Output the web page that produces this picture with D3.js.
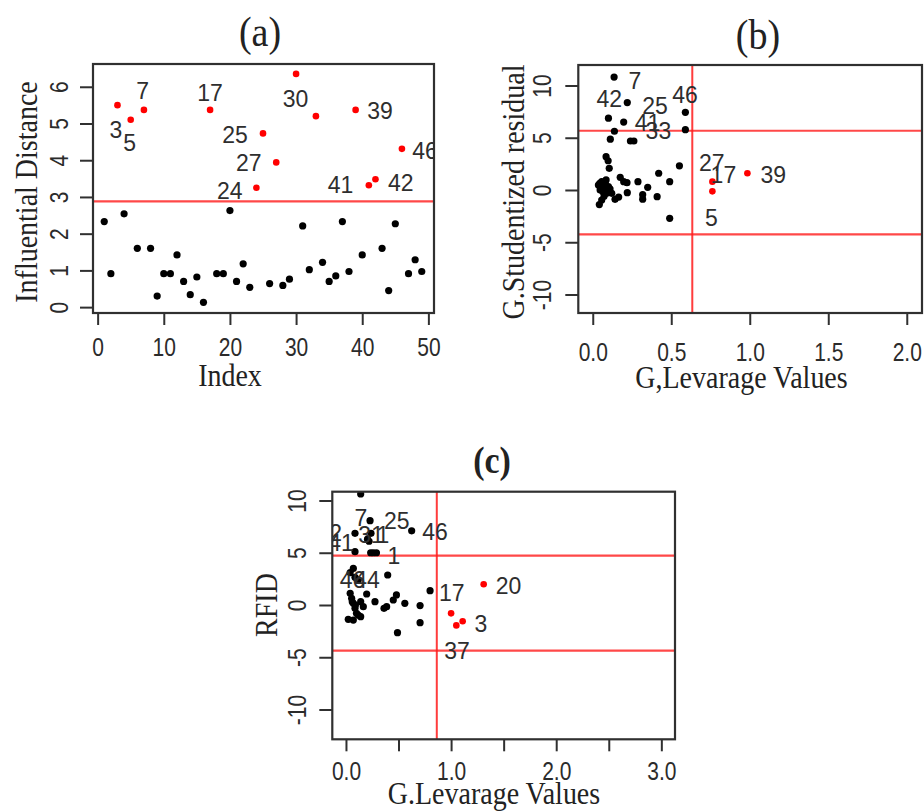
<!DOCTYPE html>
<html>
<head>
<meta charset="utf-8">
<script src="https://cdn.jsdelivr.net/npm/d3@7"></script>
<style>
	body { margin: 0; background: #fff; }
	svg { display: block; }
</style>
</head>
<body>
<div id="chart"></div>
<script>

// Data

// (a) influential distance for observations 1..49
var distA = [2.33, 0.91, 5.50, 2.54, 5.10, 1.60, 5.37, 1.60, 0.30, 0.91,
	0.91, 1.42, 0.70, 0.34, 0.82, 0.13, 5.37, 0.91, 0.91, 2.63,
	0.70, 1.18, 0.54, 3.25, 4.73, 0.64, 3.94, 0.59, 0.76, 6.35,
	2.21, 1.02, 5.20, 1.22, 0.70, 0.85, 2.33, 0.97, 5.37, 1.42,
	3.32, 3.48, 1.60, 0.45, 2.27, 4.31, 0.91, 1.29, 0.97];
var cutA = 2.88;
var labelsA = ['3', '5', '7', '17', '25', '27', '24', '30', '39', '41', '42', '46'];
var labelsAX = [2.75, 4.85, 6.79, 17.0, 20.77, 22.86, 19.99, 29.92, 42.69, 36.72, 45.84, 49.5];
var labelsAY = [4.85, 4.48, 5.91, 5.86, 4.71, 3.94, 3.18, 5.69, 5.35, 3.33, 3.40, 4.27];

// (b) leverage vs studentized residual
var levB = [0.136, 0.22, 0.10, 0.197, 0.138, 0.112, 0.24, 0.262, 0.59, 0.59,
	0.085, 0.098, 0.105, 0.552, 0.42, 0.49, 0.288, 0.175, 0.197, 0.218,
	0.35, 0.41, 0.318, 0.318, 0.22, 0.165, 0.142, 0.49,
	0.042, 0.057, 0.072, 0.047, 0.036, 0.057, 0.072, 0.085, 0.089, 0.104,
	0.064, 0.079, 0.10, 0.121, 0.051, 0.085, 0.045, 0.11,
	0.762, 0.762, 0.985];
var resB = [10.8, 8.36, 6.87, 6.5, 5.62, 4.86, 4.69, 4.69, 7.43, 5.77,
	3.19, 2.80, 2.07, 2.31, 1.6, 0.8, 0.8, 1.21, 0.8, 0.70,
	0.26, -0.64, -0.45, -0.88, -0.26, -0.68, -0.89, -2.71,
	-1.40, -0.96, -0.60, 0.0, 0.48, 0.8, 0.48, 0.16, -0.32, -0.16,
	-0.16, 0.7, 0.32, -0.32, 0.32, 0.96, 0.64, 0.1,
	0.80, -0.13, 1.6];
var cutLevB = 0.634;
var cutResB = [5.67, -4.24];
var labelsB = ['7', '42', '25', '46', '41', '33', '27', '17', '5', '39'];
var labelsBX = [0.269, 0.105, 0.397, 0.588, 0.349, 0.418, 0.758, 0.832, 0.755, 1.15];
var labelsBY = [10.48, 8.77, 8.06, 9.17, 6.46, 5.66, 2.63, 1.51, -2.60, 1.45];

// (c) leverage vs RFID
var levC = [0.14, 0.229, 0.238, 0.205, 0.22, 0.086, 0.625, 0.086, 0.235, 0.26,
	0.29, 0.397, 0.80, 0.07, 0.04, 0.086, 0.117, 0.197, 0.276, 0.362,
	0.387, 0.45, 0.48, 0.56, 0.705, 0.705, 0.49,
	0.04, 0.054, 0.07, 0.086, 0.10, 0.022, 0.07, 0.117, 0.14, 0.165,
	0.14, 0.06, 0.09,
	1.0, 1.05, 1.11, 1.31];
var rfidC = [10.62, 8.07, 6.86, 6.3, 6.1, 6.86, 7.1, 5.1, 5.0, 5.0,
	5.0, 2.87, 1.37, 3.5, 3.1, 2.65, 2.4, 1.05, 0.32, -0.32,
	-0.16, 0.48, 0.96, 0.16, -0.06, -1.69, -2.65,
	1.12, 0.64, 0.16, -0.32, -0.8, -1.37, -1.44, -0.96, -1.12, -0.16,
	0.32, 0.3, 0.0,
	-0.8, -1.95, -1.55, 1.98];
var cutLevC = 0.864;
var cutRfidC = [4.72, -4.37];
var labelsC = ['7', '25', '31', '1', '46', '41', '42', '1', '46', '44', '17', '20', '3', '37'];
var labelsCX = [0.141, 0.483, 0.238, 0.352, 0.848, -0.048, -0.16, 0.457, 0.062, 0.20, 1.007, 1.546, 1.284, 1.057];
var labelsCY = [8.40, 8.06, 6.78, 6.78, 7.01, 5.98, 6.94, 4.78, 2.49, 2.49, 1.20, 1.84, -1.80, -4.38];

// Tick values
var ticksAX = [0, 10, 20, 30, 40, 50];
var ticksAY = [0, 1, 2, 3, 4, 5, 6];
var ticksBX = [0, 0.5, 1, 1.5, 2];
var ticksBY = [-10, -5, 0, 5, 10];
var ticksCX = [0, 0.5, 1, 1.5, 2, 2.5, 3];
var ticksCY = [-10, -5, 0, 5, 10];


// Config

var sans = "'Liberation Sans', Arial, sans-serif";
var serif = "'Liberation Serif', 'Times New Roman', serif";
var tickFont = { family: sans, size: 21, sy: 1.2 };
var labelFont = { family: sans, size: 23, sy: 1.05 };
var titleFont = { family: serif, size: 28, sy: 1.15 };
var red = '#ff1a1a';
var ink = '#2b2b2b';

var svg = d3.select('#chart').append('svg')
	.attr('width', 924)
	.attr('height', 812);


// Helpers

function zip(xs, ys) {
	return xs.map((v, i) => ({ x: v, y: ys[i] }));
}

// R prints a plain hyphen, not the unicode minus d3.format uses
function plainInt(d) {
	return String(d);
}

function stretchText(g, str, x, y, font, opts) {
	opts = opts || {};
	let tf = `translate(${x},${y})` + (opts.rotate ? ' rotate(-90)' : '') + ` scale(1,${font.sy})`;
	return g.append('text')
		.attr('transform', tf)
		.attr('text-anchor', opts.anchor || 'middle')
		.style('font-family', font.family)
		.style('font-size', font.size + 'px')
		.style('font-weight', opts.weight || 'normal')
		.attr('fill', opts.fill || ink)
		.text(str);
}


// Rendering

function drawPanel(p) {
	const x = d3.scaleLinear().domain(p.xDomain).range([p.left, p.right]);
	const y = d3.scaleLinear().domain(p.yDomain).range([p.bottom, p.top]);
	const g = svg.append('g').attr('class', 'panel-' + p.name);

	const clipId = 'clip-' + p.name;
	g.append('clipPath').attr('id', clipId)
		.append('rect')
			.attr('x', p.left).attr('y', p.top)
			.attr('width', p.right - p.left).attr('height', p.bottom - p.top);
	const inner = g.append('g').attr('clip-path', `url(#${clipId})`);

	// cut-off lines
	(p.vLines || []).forEach(v => {
		inner.append('line')
			.attr('x1', x(v)).attr('x2', x(v)).attr('y1', p.top).attr('y2', p.bottom)
			.attr('stroke', red).attr('stroke-width', 2).attr('stroke-opacity', 0.85);
	});
	(p.hLines || []).forEach(v => {
		inner.append('line')
			.attr('x1', p.left).attr('x2', p.right).attr('y1', y(v)).attr('y2', y(v))
			.attr('stroke', red).attr('stroke-width', 2.2).attr('stroke-opacity', 0.8);
	});

	// points
	inner.selectAll('.pt')
		.data(p.points)
		.enter().append('circle')
			.attr('class', 'pt')
			.attr('cx', d => x(d.x))
			.attr('cy', d => y(d.y))
			.attr('r', d => p.isOut(d) ? 3.3 : 3.6)
			.attr('fill', d => p.isOut(d) ? '#ff0000' : '#000');

	// point labels
	p.labels.forEach((lab, i) => {
		stretchText(inner, lab, x(p.labelX[i]), y(p.labelY[i]) + 0.358 * labelFont.size * labelFont.sy, labelFont, { fill: '#2e2e2e' });
	});

	// frame
	g.append('rect')
		.attr('x', p.left).attr('y', p.top)
		.attr('width', p.right - p.left).attr('height', p.bottom - p.top)
		.attr('fill', 'none').attr('stroke', '#303030').attr('stroke-width', 2.2);

	// axes
	const xAxis = g.append('g')
		.attr('transform', `translate(0,${p.bottom})`)
		.call(d3.axisBottom(x).tickValues(p.xTicks).tickSize(12).tickFormat(p.xFormat));
	const yAxis = g.append('g')
		.attr('transform', `translate(${p.left},0)`)
		.call(d3.axisLeft(y).tickValues(p.yTicks).tickSize(13).tickFormat(plainInt));
	[xAxis, yAxis].forEach(ax => {
		ax.select('.domain').remove();
		ax.selectAll('line').attr('stroke', '#303030').attr('stroke-width', 2);
		ax.attr('font-family', null).attr('font-size', null);
	});
	xAxis.selectAll('text')
		.attr('y', null).attr('dy', null)
		.attr('transform', `translate(0,${p.xTickGap}) scale(1,${tickFont.sy})`)
		.style('font-family', tickFont.family).style('font-size', tickFont.size + 'px')
		.attr('fill', ink);
	yAxis.selectAll('text')
		.attr('x', null).attr('dy', null)
		.attr('text-anchor', 'middle')
		.attr('transform', `translate(${-p.yTickGap},0) rotate(-90) scale(1,${tickFont.sy})`)
		.style('font-family', tickFont.family).style('font-size', tickFont.size + 'px')
		.attr('fill', ink);

	// titles
	stretchText(g, p.title, p.titlePos[0], p.titlePos[1], p.titleFont, { weight: p.titleWeight, fill: '#222' });
	stretchText(g, p.xTitle, p.xTitlePos[0], p.xTitlePos[1], titleFont, { fill: '#222' });
	stretchText(g, p.yTitle, p.yTitlePos[0], p.yTitlePos[1], titleFont, { rotate: true, fill: '#222' });
}

drawPanel({
	name: 'a',
	left: 93, right: 434, top: 64, bottom: 313,
	xDomain: [-0.7, 50.85], yDomain: [-0.16, 6.62],
	points: distA.map((v, i) => ({ x: i + 1, y: v })),
	isOut: d => d.y > cutA,
	hLines: [cutA],
	labels: labelsA, labelX: labelsAX, labelY: labelsAY,
	xTicks: ticksAX, yTicks: ticksAY, xFormat: plainInt,
	xTickGap: 43, yTickGap: 25,
	title: '(a)', titlePos: [260, 46], titleFont: { family: serif, size: 38, sy: 1.1 },
	xTitle: 'Index', xTitlePos: [230, 386],
	yTitle: 'Influential Distance', yTitlePos: [37, 192]
});

drawPanel({
	name: 'b',
	left: 578.3, right: 922, top: 65, bottom: 313,
	xDomain: [-0.092, 2.097], yDomain: [-11.77, 11.96],
	points: zip(levB, resB),
	isOut: d => d.x > cutLevB,
	vLines: [cutLevB], hLines: cutResB,
	labels: labelsB, labelX: labelsBX, labelY: labelsBY,
	xTicks: ticksBX, yTicks: ticksBY, xFormat: d3.format('.1f'),
	xTickGap: 48, yTickGap: 27,
	title: '(b)', titlePos: [758, 49], titleFont: { family: serif, size: 38, sy: 1.1 },
	xTitle: 'G,Levarage Values', xTitlePos: [741.5, 388],
	yTitle: 'G.Studentized residual', yTitlePos: [524, 192]
});

drawPanel({
	name: 'c',
	left: 332.3, right: 675, top: 491.7, bottom: 739.3,
	xDomain: [-0.13, 3.13], yDomain: [-12.85, 10.84],
	points: zip(levC, rfidC),
	isOut: d => d.x > cutLevC,
	vLines: [cutLevC], hLines: cutRfidC,
	labels: labelsC, labelX: labelsCX, labelY: labelsCY,
	xTicks: ticksCX, yTicks: ticksCY,
	xFormat: d => Number.isInteger(d) ? d3.format('.1f')(d) : '',
	xTickGap: 41, yTickGap: 26,
	title: '(c)', titlePos: [492, 473], titleFont: { family: serif, size: 34, sy: 1.1 }, titleWeight: 'bold',
	xTitle: 'G.Levarage Values', xTitlePos: [494, 804],
	yTitle: 'RFID', yTitlePos: [277, 605]
});

</script>
</body>
</html>
